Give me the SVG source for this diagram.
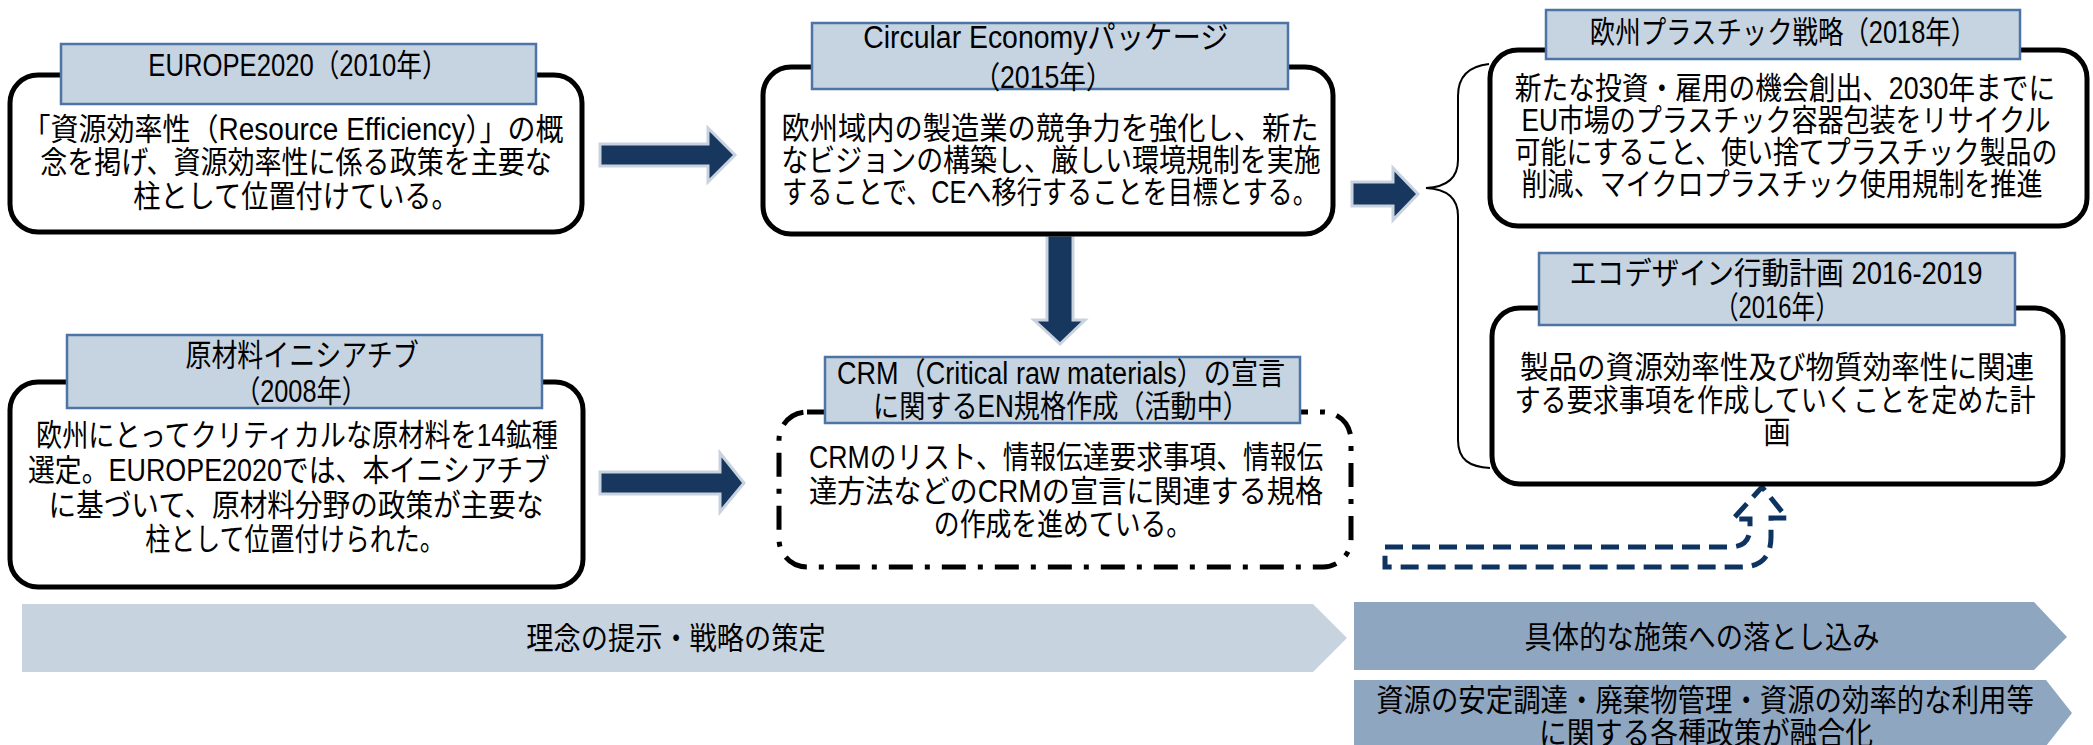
<svg xmlns="http://www.w3.org/2000/svg" width="2093" height="745" viewBox="0 0 2093 745">
<style>
.box{fill:#fff;stroke:#000;stroke-width:5}
.dd{fill:#fff;stroke:#000;stroke-width:5;stroke-dasharray:24 12 5 12}
.hdr{fill:#c6d3e1;stroke:#4d74a5;stroke-width:2.5}
.t{font-family:"Liberation Sans","Noto Sans CJK JP",sans-serif;font-size:31px;fill:#000;text-anchor:middle;dominant-baseline:central}
.arr{fill:#17375e;stroke:#c8d3df;stroke-width:3}
.band1{fill:#c7d3df}
.band2{fill:#8fa6c0}
.brace{fill:none;stroke:#000;stroke-width:2}
.ua{fill:none;stroke:#0d3360;stroke-width:5;stroke-dasharray:18 9}
</style>
<g id="connectors">
<polygon class="arr" points="600,144 708,144 708,128 735,155 708,182 708,166 600,166"/>
<polygon class="arr" points="600,472 720,472 720,453 744,483 720,512 720,494 600,494"/>
<polygon class="arr" points="1352,182 1393,182 1393,168 1418,194 1393,220 1393,206 1352,206"/>
<polygon class="arr" points="1047,235 1073,235 1073,320 1085,320 1060,344 1034,320 1047,320"/>
<path class="brace" d="M1489,64 C1470,66 1458,76 1458,96 L1458,160 C1458,178 1446,187 1426,188 C1446,189 1458,198 1458,216 L1458,440 C1458,460 1470,467 1490,468"/>
<path class="ua" d="M1385,547 L1730,547 Q1750,547 1750,527 L1750,519 L1733,519 L1762,487 L1787,518 L1771,518 L1771,537 Q1771,567 1741,567 L1385,567 Z"/>
</g>
<g id="europe2020">
<rect class="box" x="10" y="75" width="572" height="157" rx="28"/>
<rect class="hdr" x="61" y="44" width="475" height="60"/>
<text class="t" transform="translate(298,65) scale(0.87,1)" textLength="344" lengthAdjust="spacingAndGlyphs">EUROPE2020（2010年）</text>
<text class="t" transform="translate(293,129) scale(0.87,1)" textLength="622" lengthAdjust="spacingAndGlyphs">「資源効率性（Resource Efficiency）」の概</text>
<text class="t" transform="translate(296,162) scale(0.87,1)" textLength="588" lengthAdjust="spacingAndGlyphs">念を掲げ、資源効率性に係る政策を主要な</text>
<text class="t" transform="translate(296,196) scale(0.87,1)" textLength="374" lengthAdjust="spacingAndGlyphs">柱として位置付けている。</text>
</g>
<g id="circular-economy">
<rect class="box" x="763" y="67" width="570" height="167" rx="28"/>
<rect class="hdr" x="812" y="23" width="476" height="66"/>
<text class="t" transform="translate(1046,37) scale(0.87,1)" textLength="420" lengthAdjust="spacingAndGlyphs">Circular Economyパッケージ</text>
<text class="t" transform="translate(1043,77) scale(0.87,1)" textLength="160" lengthAdjust="spacingAndGlyphs">（2015年）</text>
<text class="t" transform="translate(1050,128) scale(0.87,1)" textLength="617" lengthAdjust="spacingAndGlyphs">欧州域内の製造業の競争力を強化し、新た</text>
<text class="t" transform="translate(1051,160) scale(0.87,1)" textLength="620" lengthAdjust="spacingAndGlyphs">なビジョンの構築し、厳しい環境規制を実施</text>
<text class="t" transform="translate(1050,192) scale(0.87,1)" textLength="616" lengthAdjust="spacingAndGlyphs">することで、CEへ移行することを目標とする。</text>
</g>
<g id="plastics-strategy">
<rect class="box" x="1490" y="50" width="597" height="176" rx="28"/>
<rect class="hdr" x="1546" y="10" width="474" height="49"/>
<text class="t" transform="translate(1783,32) scale(0.87,1)" textLength="444" lengthAdjust="spacingAndGlyphs">欧州プラスチック戦略（2018年）</text>
<text class="t" transform="translate(1785,88) scale(0.87,1)" textLength="621" lengthAdjust="spacingAndGlyphs">新たな投資・雇用の機会創出、2030年までに</text>
<text class="t" transform="translate(1786,120) scale(0.87,1)" textLength="608" lengthAdjust="spacingAndGlyphs">EU市場のプラスチック容器包装をリサイクル</text>
<text class="t" transform="translate(1786,152) scale(0.87,1)" textLength="624" lengthAdjust="spacingAndGlyphs">可能にすること、使い捨てプラスチック製品の</text>
<text class="t" transform="translate(1782,184) scale(0.87,1)" textLength="599" lengthAdjust="spacingAndGlyphs">削減、マイクロプラスチック使用規制を推進</text>
</g>
<g id="raw-materials">
<rect class="box" x="10" y="382" width="573" height="205" rx="28"/>
<rect class="hdr" x="67" y="335" width="475" height="73"/>
<text class="t" transform="translate(302,355) scale(0.87,1)" textLength="268" lengthAdjust="spacingAndGlyphs">原材料イニシアチブ</text>
<text class="t" transform="translate(301,391) scale(0.87,1)" textLength="152" lengthAdjust="spacingAndGlyphs">（2008年）</text>
<text class="t" transform="translate(297,435) scale(0.87,1)" textLength="600" lengthAdjust="spacingAndGlyphs">欧州にとってクリティカルな原材料を14鉱種</text>
<text class="t" transform="translate(289,470) scale(0.87,1)" textLength="600" lengthAdjust="spacingAndGlyphs">選定。EUROPE2020では、本イニシアチブ</text>
<text class="t" transform="translate(296,505) scale(0.87,1)" textLength="569" lengthAdjust="spacingAndGlyphs">に基づいて、原材料分野の政策が主要な</text>
<text class="t" transform="translate(295,539) scale(0.87,1)" textLength="344" lengthAdjust="spacingAndGlyphs">柱として位置付けられた。</text>
</g>
<g id="crm">
<rect class="dd" x="779" y="412" width="572" height="155" rx="28"/>
<rect class="hdr" x="825" y="357" width="475" height="66"/>
<text class="t" transform="translate(1061,373) scale(0.87,1)" textLength="515" lengthAdjust="spacingAndGlyphs">CRM（Critical raw materials）の宣言</text>
<text class="t" transform="translate(1061,406) scale(0.87,1)" textLength="432" lengthAdjust="spacingAndGlyphs">に関するEN規格作成（活動中）</text>
<text class="t" transform="translate(1066,457) scale(0.87,1)" textLength="591" lengthAdjust="spacingAndGlyphs">CRMのリスト、情報伝達要求事項、情報伝</text>
<text class="t" transform="translate(1066,491) scale(0.87,1)" textLength="591" lengthAdjust="spacingAndGlyphs">達方法などのCRMの宣言に関連する規格</text>
<text class="t" transform="translate(1063,524) scale(0.87,1)" textLength="297" lengthAdjust="spacingAndGlyphs">の作成を進めている。</text>
</g>
<g id="ecodesign">
<rect class="box" x="1492" y="308" width="571" height="176" rx="28"/>
<rect class="hdr" x="1539" y="253" width="476" height="72"/>
<text class="t" transform="translate(1776,273) scale(0.87,1)" textLength="475" lengthAdjust="spacingAndGlyphs">エコデザイン行動計画 2016-2019</text>
<text class="t" transform="translate(1777,307) scale(0.87,1)" textLength="143" lengthAdjust="spacingAndGlyphs">（2016年）</text>
<text class="t" transform="translate(1777,367) scale(0.87,1)" textLength="591" lengthAdjust="spacingAndGlyphs">製品の資源効率性及び物質効率性に関連</text>
<text class="t" transform="translate(1775,400) scale(0.87,1)" textLength="599" lengthAdjust="spacingAndGlyphs">する要求事項を作成していくことを定めた計</text>
<text class="t" transform="translate(1777,432) scale(0.87,1)">画</text>
</g>
<g id="band-strategy">
<polygon class="band1" points="22,604 1313,604 1347,638 1313,672 22,672"/>
<text class="t" transform="translate(676,638) scale(0.87,1)" textLength="344" lengthAdjust="spacingAndGlyphs">理念の提示・戦略の策定</text>
</g>
<g id="band-measures">
<polygon class="band2" points="1354,602 2034,602 2067,637 2034,670 1354,670"/>
<text class="t" transform="translate(1702,637) scale(0.87,1)" textLength="408" lengthAdjust="spacingAndGlyphs">具体的な施策への落とし込み</text>
</g>
<g id="band-integration">
<polygon class="band2" points="1354,680 2046,680 2072,713 2046,746 1354,746"/>
<text class="t" transform="translate(1705,700) scale(0.87,1)" textLength="756" lengthAdjust="spacingAndGlyphs">資源の安定調達・廃棄物管理・資源の効率的な利用等</text>
<text class="t" transform="translate(1706,733) scale(0.87,1)" textLength="384" lengthAdjust="spacingAndGlyphs">に関する各種政策が融合化</text>
</g>
</svg>
